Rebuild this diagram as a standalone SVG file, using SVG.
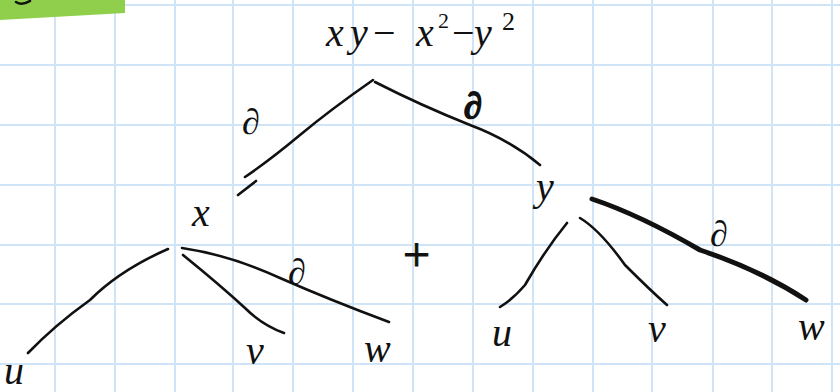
<svg xmlns="http://www.w3.org/2000/svg" width="840" height="392" viewBox="0 0 840 392">
<style>
.grid{stroke:#cfe5f7;stroke-width:2;fill:none}
.edge{stroke:#111;stroke-width:2.6;fill:none;stroke-linecap:round;stroke-linejoin:round}
.bold{stroke-width:5}
.t{font-family:"Liberation Serif",serif;font-style:italic;fill:#111;font-size:40px}
.lbl{font-family:"Liberation Serif",serif;fill:#111;font-size:36px}
</style>
<rect width="840" height="392" fill="#fff"/>
<g id="grid" class="grid">
<path d="M55 0V392M115 0V392M175 0V392M233 0V392M293 0V392M353 0V392M413 0V392M473 0V392M533 0V392M593 0V392M652 0V392M713 0V392M772 0V392M832 0V392"/>
<path d="M0 5H840M0 65H840M0 125H840M0 185H840M0 245H840M0 304H840M0 364H840"/>
</g>
<polygon points="0,0 125,0 125,13 0,20" fill="#8fcf4c"/>
<path d="M16 2 Q22 6 30 1" class="edge" stroke-width="2"/>
<g id="connectors">
<path class="edge" d="M373 80 Q330 110 300 135 Q270 160 245 177"/>
<path class="edge" d="M238 195 L256 181"/>
<path class="edge" d="M375 82 Q420 105 470 125 Q510 140 540 165"/>
<path class="edge" d="M168 249 Q120 270 90 300 Q55 325 28 353"/>
<path class="edge" d="M183 255 Q220 285 245 308 Q262 325 284 333"/>
<path class="edge" d="M182 248 Q230 255 280 278 Q330 300 389 322"/>
<path class="edge" d="M567 223 Q545 250 525 285 Q512 300 500 307"/>
<path class="edge" d="M580 218 Q600 230 625 265 Q650 290 667 305"/>
<path class="edge bold" d="M592 199 Q640 215 700 250 Q760 270 806 300"/>
</g>
<g id="root"><text class="t" y="46"><tspan x="326">x</tspan><tspan x="350">y</tspan><tspan x="373" font-style="normal">−</tspan><tspan x="416">x</tspan><tspan x="438" y="28" font-size="22" font-style="normal">2</tspan><tspan x="452" y="46" font-style="normal">−</tspan><tspan x="474">y</tspan><tspan x="502" y="30" font-size="26" font-style="normal">2</tspan></text></g>
<g id="node-x"><text class="t" x="192" y="226">x</text></g>
<g id="node-y"><text class="t" x="536" y="200">y</text></g>
<g id="node-xu"><text class="t" x="4" y="384">u</text></g>
<g id="node-xv"><text class="t" x="246" y="364">v</text></g>
<g id="node-xw"><text class="t" x="364" y="362">w</text></g>
<g id="node-yu"><text class="t" x="492" y="346">u</text></g>
<g id="node-yv"><text class="t" x="648" y="342">v</text></g>
<g id="node-yw"><text class="t" x="798" y="340">w</text></g>
<g id="plus"><text class="lbl" x="403" y="271" style="font-size:48px" stroke="#111" stroke-width="1">+</text></g>
<g id="labels">
<text class="lbl" x="242" y="134">∂</text>
<text class="lbl" x="464" y="118" font-weight="bold" stroke="#111" stroke-width="2">∂</text>
<text class="lbl" x="288" y="284">∂</text>
<text class="lbl" x="710" y="246">∂</text>
</g>
</svg>
